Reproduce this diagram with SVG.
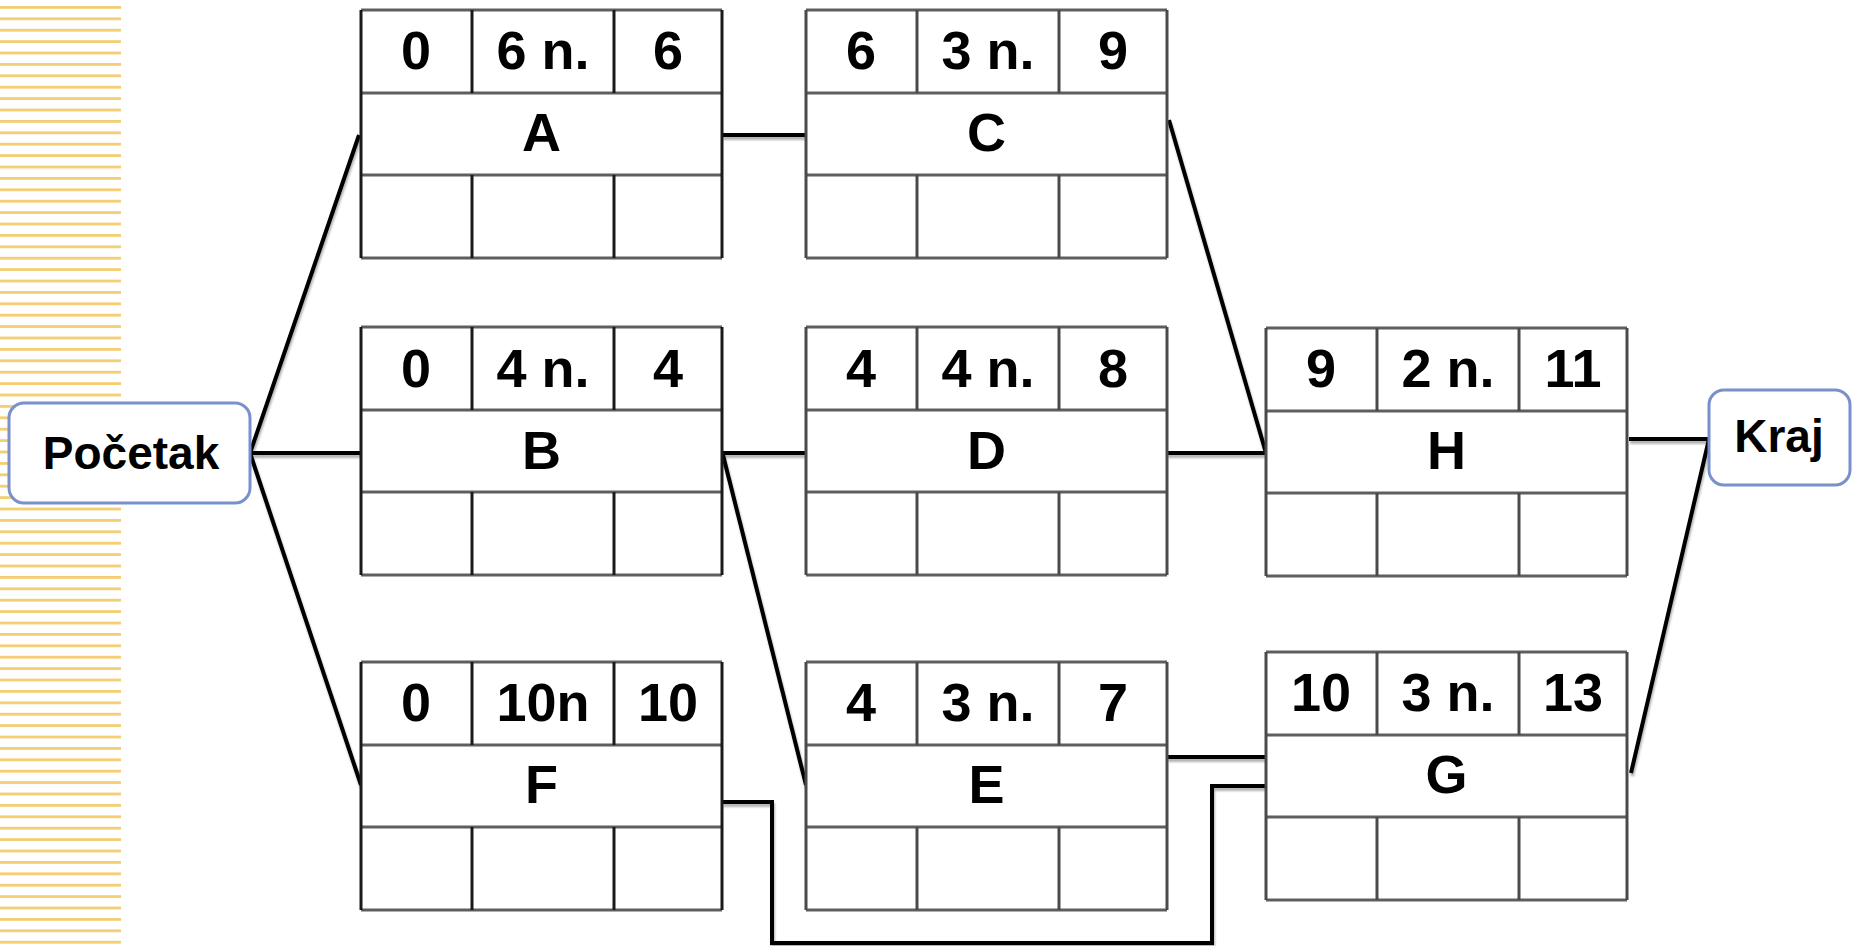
<svg xmlns="http://www.w3.org/2000/svg" xmlns:xlink="http://www.w3.org/1999/xlink" width="1852" height="946" viewBox="0 0 1852 946">
<style>
  .bg { fill: #ffffff; }
  .hl { stroke: #5e5e5e; stroke-width: 3; fill: none; }
  .vl { stroke: #1a1a1a; stroke-width: 3; fill: none; }
  .vl2 { stroke: #4a4a4a; stroke-width: 3; fill: none; }
  .num { font-family: "Liberation Sans", Arial, sans-serif; font-weight: bold; font-size: 54px; fill: #000; text-anchor: middle; }
  .term { fill: #ffffff; stroke: #7890CC; stroke-width: 3; }
  .tt { font-family: "Liberation Sans", Arial, sans-serif; font-weight: bold; font-size: 46px; fill: #000; text-anchor: middle; }
  .con { stroke: #000; stroke-width: 4; fill: none; stroke-linejoin: miter; }
</style>
<defs>
  <pattern id="stripes" x="0" y="6" width="121" height="11.4" patternUnits="userSpaceOnUse">
    <rect x="0" y="0" width="121" height="2.8" fill="#F4CE74"/>
  </pattern>
  <filter id="shadow" x="-10%" y="-10%" width="120%" height="130%">
    <feDropShadow dx="1" dy="3" stdDeviation="1.3" flood-color="#000" flood-opacity="0.3"/>
  </filter>
  <g id="gridA">
    <rect class="bg" x="0" y="0" width="361" height="248"/>
    <line class="hl" x1="0" y1="0" x2="361" y2="0"/>
    <line class="hl" x1="0" y1="83" x2="361" y2="83"/>
    <line class="hl" x1="0" y1="165" x2="361" y2="165"/>
    <line class="hl" x1="0" y1="248" x2="361" y2="248"/>
    <line class="vl" x1="0" y1="0" x2="0" y2="248"/>
    <line class="vl" x1="361" y1="0" x2="361" y2="248"/>
    <line class="vl" x1="111" y1="0" x2="111" y2="83"/>
    <line class="vl" x1="253" y1="0" x2="253" y2="83"/>
    <line class="vl" x1="111" y1="165" x2="111" y2="248"/>
    <line class="vl" x1="253" y1="165" x2="253" y2="248"/>
  </g>
  <g id="gridB">
    <rect class="bg" x="0" y="0" width="361" height="248"/>
    <line class="hl" x1="0" y1="0" x2="361" y2="0"/>
    <line class="hl" x1="0" y1="83" x2="361" y2="83"/>
    <line class="hl" x1="0" y1="165" x2="361" y2="165"/>
    <line class="hl" x1="0" y1="248" x2="361" y2="248"/>
    <line class="vl2" x1="0" y1="0" x2="0" y2="248"/>
    <line class="vl2" x1="361" y1="0" x2="361" y2="248"/>
    <line class="vl2" x1="111" y1="0" x2="111" y2="83"/>
    <line class="vl2" x1="253" y1="0" x2="253" y2="83"/>
    <line class="vl2" x1="111" y1="165" x2="111" y2="248"/>
    <line class="vl2" x1="253" y1="165" x2="253" y2="248"/>
  </g>
</defs>

<rect x="0" y="0" width="1852" height="946" fill="#ffffff"/>
<rect x="0" y="0" width="121" height="946" fill="url(#stripes)"/>

<g id="connectors" filter="url(#shadow)">
  <polyline class="con" points="359,135 250,453 361,785"/>
  <line class="con" x1="250" y1="453" x2="361" y2="453"/>
  <line class="con" x1="722" y1="135" x2="806" y2="135"/>
  <line class="con" x1="722" y1="453" x2="806" y2="453"/>
  <line class="con" x1="723" y1="455" x2="806" y2="785"/>
  <polyline class="con" points="1169,120 1266,453 1167,453"/>
  <line class="con" x1="1167" y1="757" x2="1266" y2="757"/>
  <polyline class="con" points="722,802 772,802 772,943 1212,943 1212,786 1266,786"/>
  <polyline class="con" points="1629,439 1709,439 1631,773"/>
</g>

<g id="pocetak">
  <rect class="term" x="9" y="403" width="241" height="100" rx="15" ry="15"/>
  <text class="tt" x="131" y="469">Početak</text>
</g>

<g id="kraj">
  <rect class="term" x="1709" y="390" width="141" height="95" rx="15" ry="15"/>
  <text class="tt" x="1779" y="452">Kraj</text>
</g>

<g id="nodeA" transform="translate(361,10)">
  <use xlink:href="#gridA" href="#gridA"/>
  <text class="num" x="55" y="59">0</text>
  <text class="num" x="182" y="59">6 n.</text>
  <text class="num" x="307" y="59">6</text>
  <text class="num" x="180.5" y="141">A</text>
</g>

<g id="nodeB" transform="translate(361,327)">
  <use xlink:href="#gridA" href="#gridA"/>
  <text class="num" x="55" y="60">0</text>
  <text class="num" x="182" y="60">4 n.</text>
  <text class="num" x="307" y="60">4</text>
  <text class="num" x="180.5" y="142">B</text>
</g>

<g id="nodeF" transform="translate(361,662)">
  <use xlink:href="#gridA" href="#gridA"/>
  <text class="num" x="55" y="59">0</text>
  <text class="num" x="182" y="59">10n</text>
  <text class="num" x="307" y="59">10</text>
  <text class="num" x="180.5" y="141">F</text>
</g>

<g id="nodeC" transform="translate(806,10)">
  <use xlink:href="#gridB" href="#gridB"/>
  <text class="num" x="55" y="59">6</text>
  <text class="num" x="182" y="59">3 n.</text>
  <text class="num" x="307" y="59">9</text>
  <text class="num" x="180.5" y="141">C</text>
</g>

<g id="nodeD" transform="translate(806,327)">
  <use xlink:href="#gridB" href="#gridB"/>
  <text class="num" x="55" y="60">4</text>
  <text class="num" x="182" y="60">4 n.</text>
  <text class="num" x="307" y="60">8</text>
  <text class="num" x="180.5" y="142">D</text>
</g>

<g id="nodeE" transform="translate(806,662)">
  <use xlink:href="#gridB" href="#gridB"/>
  <text class="num" x="55" y="59">4</text>
  <text class="num" x="182" y="59">3 n.</text>
  <text class="num" x="307" y="59">7</text>
  <text class="num" x="180.5" y="141">E</text>
</g>

<g id="nodeH" transform="translate(1266,328)">
  <use xlink:href="#gridB" href="#gridB"/>
  <text class="num" x="55" y="59">9</text>
  <text class="num" x="182" y="59">2 n.</text>
  <text class="num" x="307" y="59">11</text>
  <text class="num" x="180.5" y="141">H</text>
</g>

<g id="nodeG" transform="translate(1266,652)">
  <use xlink:href="#gridB" href="#gridB"/>
  <text class="num" x="55" y="59">10</text>
  <text class="num" x="182" y="59">3 n.</text>
  <text class="num" x="307" y="59">13</text>
  <text class="num" x="180.5" y="141">G</text>
</g>
</svg>
